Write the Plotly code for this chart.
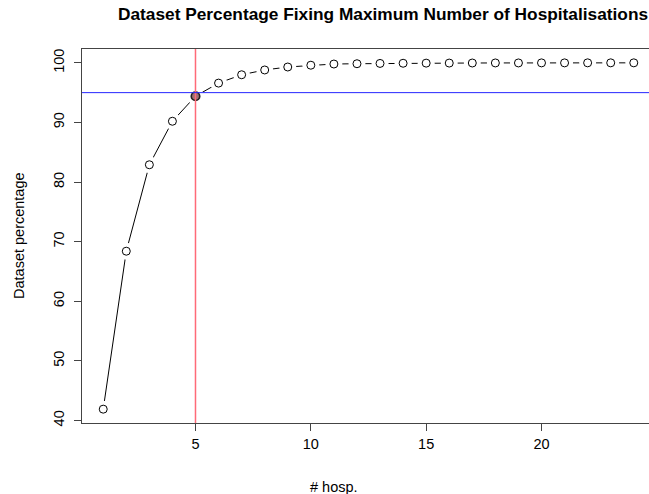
import plotly.graph_objects as go

hosp = list(range(1, 25))
pct = [41.9, 68.4, 82.9, 90.2, 94.4, 96.6, 98.0, 98.8, 99.3, 99.6, 99.8, 99.85,
       99.9, 99.93, 99.95, 99.96, 99.97, 99.98, 99.98, 99.99, 99.99, 100.0, 100.0, 100.0]
threshold_pct = 95
chosen_hosp = 5
x_ticks = [5, 10, 15, 20]
y_ticks = [40, 50, 60, 70, 80, 90, 100]

W, H = 649, 494
L, R, T, B = 82, 0, 49, 71
font = "Liberation Sans, Arial, Helvetica, sans-serif"

fig = go.Figure()
# connecting line
fig.add_trace(go.Scatter(x=hosp, y=pct, mode="lines",
                         line=dict(color="black", width=1), hoverinfo="skip"))
# white halos to produce gaps (type="b")
fig.add_trace(go.Scatter(x=hosp, y=pct, mode="markers",
                         marker=dict(symbol="circle", size=17, color="white",
                                     line=dict(width=0)), hoverinfo="skip"))
# open circles
fig.add_trace(go.Scatter(x=hosp, y=pct, mode="markers",
                         marker=dict(symbol="circle-open", size=8, color="black",
                                     line=dict(width=1, color="black"))))
# reference lines
fig.add_shape(type="line", xref="x", yref="paper", x0=chosen_hosp, x1=chosen_hosp,
              y0=0, y1=1, line=dict(color="#ff6a78", width=1.5), layer="above")
fig.add_shape(type="line", xref="paper", yref="y", x0=0, x1=1,
              y0=threshold_pct, y1=threshold_pct, line=dict(color="#2626ff", width=1), layer="above")
# highlighted point
idx = hosp.index(chosen_hosp)
fig.add_trace(go.Scatter(x=[hosp[idx]], y=[pct[idx]], mode="markers",
                         marker=dict(symbol="circle", size=8.5, color="rgba(150,95,100,0.9)",
                                     line=dict(width=1.6, color="#222"))))

fig.update_layout(
    width=W, height=H, margin=dict(l=L, r=R, t=T, b=B),
    paper_bgcolor="white", plot_bgcolor="white", showlegend=False,
    font=dict(family=font, size=14.5, color="black"),
    xaxis=dict(range=[0.08, 24.66], tickvals=x_ticks, showgrid=False, zeroline=False,
               showline=True, linecolor="#444", linewidth=1.3, mirror=True,
               ticks="outside", ticklen=7, tickcolor="#444", tickwidth=1,
               tickfont=dict(size=14.5)),
    yaxis=dict(range=[39.58, 102.32], tickvals=y_ticks, showgrid=False, zeroline=False,
               showline=True, linecolor="#444", linewidth=1.3, mirror=False,
               ticks="outside", ticklen=7, tickcolor="#444", tickwidth=1,
               tickangle=-90, tickfont=dict(size=14.5), ticklabelstandoff=4),
    annotations=[
        dict(text="<b>Dataset Percentage Fixing Maximum Number of Hospitalisations</b>",
             xref="paper", yref="paper", x=(383 - L) / (W - L - R), y=1 + (T - 14) / (H - T - B),
             xanchor="center", yanchor="middle", showarrow=False,
             font=dict(size=17.3, family=font)),
        dict(text="# hosp.", xref="paper", yref="paper",
             x=(334 - L) / (W - L - R), y=-(487 - (H - B)) / (H - T - B),
             xanchor="center", yanchor="middle", showarrow=False, font=dict(size=14.5)),
        dict(text="Dataset percentage", xref="paper", yref="paper",
             x=-(L - 19) / (W - L - R), y=(H - B - 236) / (H - T - B),
             xanchor="center", yanchor="middle", showarrow=False, textangle=-90,
             font=dict(size=14.5)),
    ],
)

fig.write_html("out.html")
